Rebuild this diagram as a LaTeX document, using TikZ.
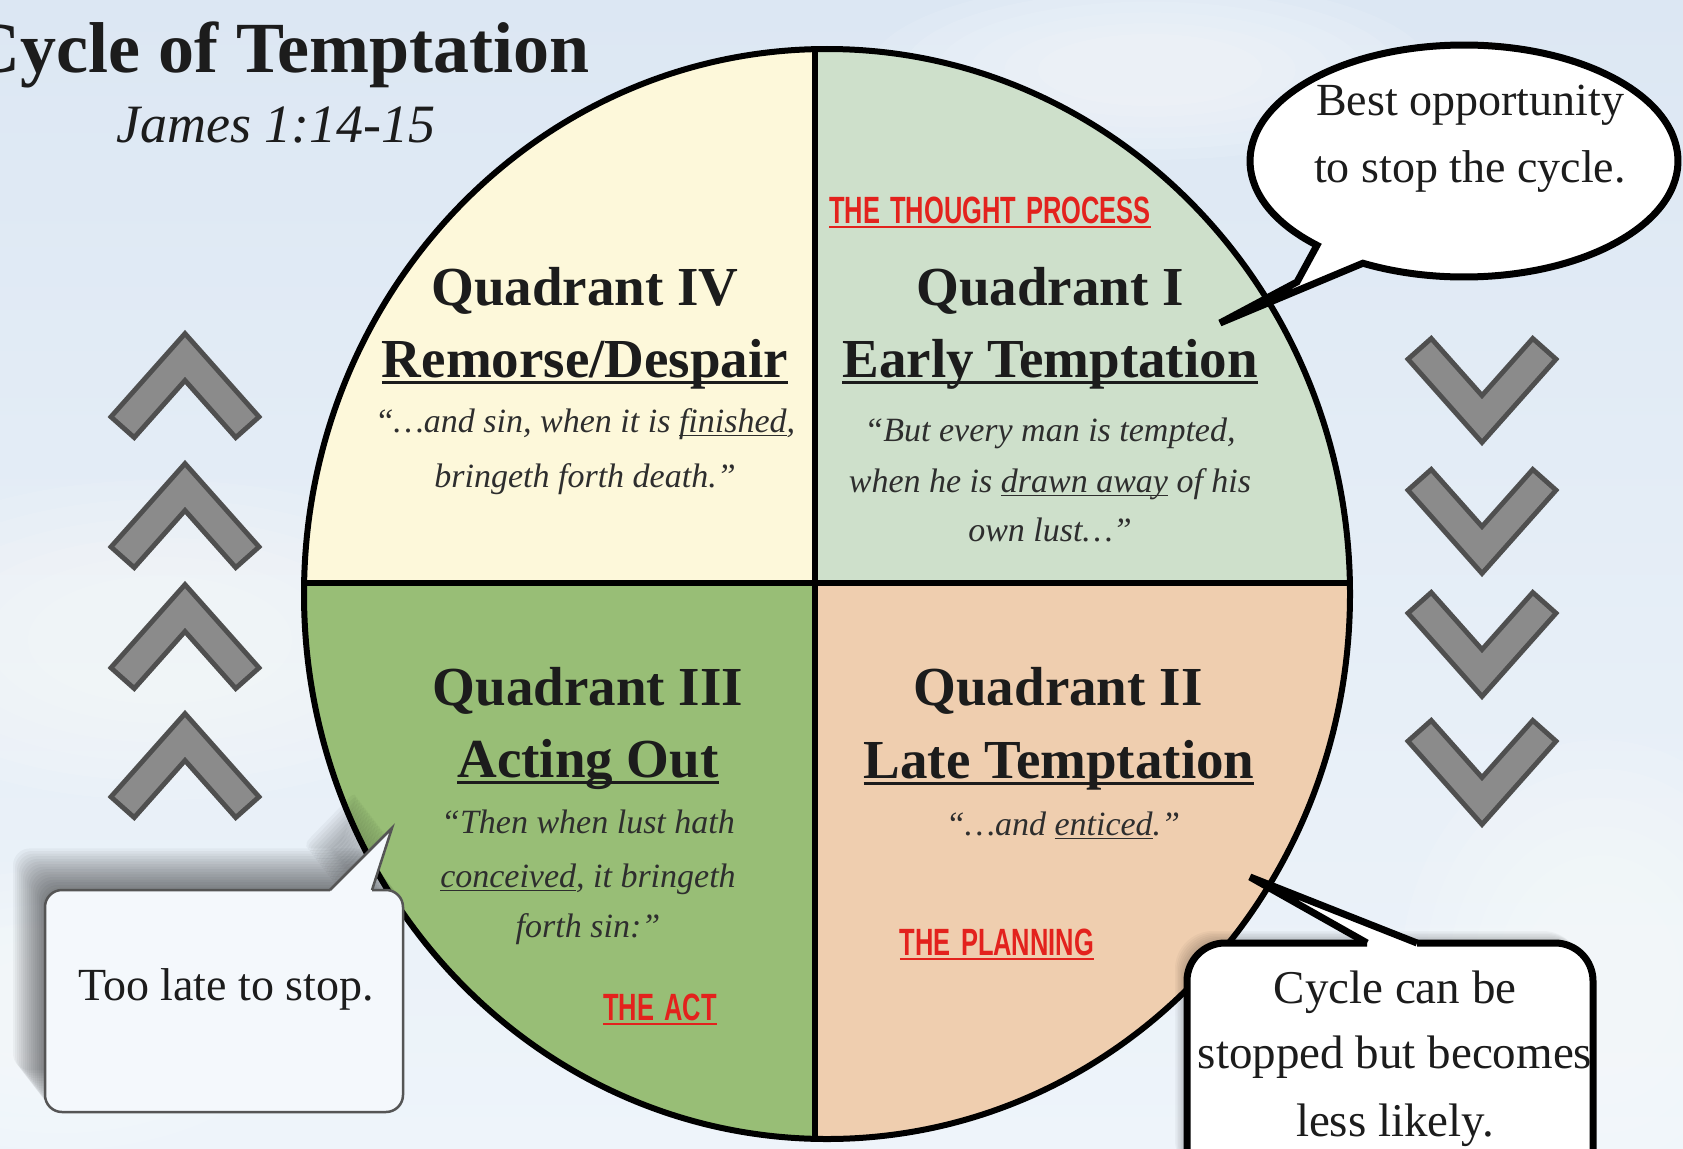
\documentclass[tikz,border=0pt]{standalone}
\usepackage{fontspec}
\usepackage{graphicx}
\setmainfont{Liberation Serif}
\newfontfamily\labfont{Liberation Sans}
\definecolor{qfourc}{HTML}{FDF8DA}
\definecolor{qonec}{HTML}{CEE0CB}
\definecolor{qthreec}{HTML}{98BE76}
\definecolor{qtwoc}{HTML}{EFCEAF}
\definecolor{txtc}{HTML}{1C1C1C}
\definecolor{qtxtc}{HTML}{2E2E2E}
\definecolor{redc}{HTML}{E3221D}
\definecolor{chevdark}{HTML}{4F4F4F}
\definecolor{chevfill}{HTML}{8B8B8B}
\definecolor{skytop}{HTML}{DCE7F3}
\definecolor{skybot}{HTML}{EEF4FA}
\definecolor{lbfill}{HTML}{F4F8FC}
\definecolor{lbline}{HTML}{555555}
\newsavebox\ulbox
\newcommand\myul[1]{\sbox\ulbox{#1}\rlap{\rule[-0.13em]{\wd\ulbox}{0.05em}}\usebox\ulbox}
\tikzset{
  chevout/.style={line width=36pt, draw=chevdark, line join=miter, line cap=butt},
  chevin/.style={line width=26pt, draw=chevfill, line join=miter, line cap=butt, shorten <=5pt, shorten >=5pt},
  upchev/.pic={
    \draw[chevout] (-64,72) -- (0,0) -- (64,72);
    \draw[chevin] (-64,72) -- (0,0) -- (64,72);
  },
  downchev/.pic={
    \draw[chevout] (-64,-72) -- (0,0) -- (64,-72);
    \draw[chevin] (-64,-72) -- (0,0) -- (64,-72);
  },
  softcloud/.pic={
    \foreach \s in {1.0,0.88,0.76,0.64,0.52,0.4} {
      \fill[white, opacity=0.1] (0,0) ellipse [x radius=\s, y radius=\s];
    }
  },
  qhead/.style={font=\fontsize{55}{60}\selectfont\bfseries, text=txtc, inner sep=0pt, anchor=base},
  qtext/.style={font=\fontsize{34}{40}\selectfont\itshape, text=qtxtc, inner sep=0pt, anchor=base},
  redlab/.style={font=\labfont\fontsize{38}{40}\selectfont\bfseries, text=redc, inner sep=0pt, anchor=base},
  btxt/.style={font=\fontsize{46}{50}\selectfont, text=txtc, inner sep=0pt, anchor=base},
  outline/.style={line width=6pt, draw=black},
  bubline/.style={line width=7pt, draw=black},
}
\begin{document}
\begin{tikzpicture}[x=1pt,y=-1pt]
\useasboundingbox (0,0) rectangle (1683,1148);
\clip (0,0) rectangle (1683,1148);
% background sky
\shade[top color=skytop,bottom color=skybot] (0,0) rectangle (1683,1148);
\pic[xscale=330, yscale=160] at (160,640) {softcloud};
\pic[xscale=240, yscale=140] at (60,1010) {softcloud};
\pic[xscale=280, yscale=90] at (1150,70) {softcloud};
\pic[xscale=200, yscale=240] at (1600,980) {softcloud};

% chevrons
\foreach \yy in {357,487,608,737} { \pic at (185,\yy) {upchev}; }
\foreach \yy in {419,550,673,801} { \pic at (1482,\yy) {downchev}; }

% circle with quadrants
\begin{scope}
  \clip (827,594) ellipse [x radius=523, y radius=545];
  \fill[qfourc] (0,0) rectangle (815,583);
  \fill[qonec] (815,0) rectangle (1683,583);
  \fill[qthreec] (0,583) rectangle (815,1200);
  \fill[qtwoc] (815,583) rectangle (1683,1200);
  \draw[outline] (815,0) -- (815,1200);
  \draw[outline] (0,583) -- (1683,583);
\end{scope}
\draw[outline] (827,594) ellipse [x radius=523, y radius=545];

% title
\node[font=\fontsize{72}{80}\selectfont\bfseries, text=txtc, inner sep=0pt, anchor=base east] (title) at (590,72) {Cycle of Temptation};
\node[font=\fontsize{54}{60}\selectfont\itshape, text=txtc, inner sep=0pt, anchor=base] (verse) at (276,142) {James 1:14-15};

% Quadrant IV
\node[qhead] (q4h) at (585,305) {Quadrant IV};
\node[qhead] (q4s) at (585,377) {\myul{Remorse/Despair}};
\node[qtext] (q4a) at (585,432) {“\ldots and sin, when it is \myul{finished},};
\node[qtext] (q4b) at (585,487) {bringeth forth death.”};

% Quadrant I
\node[redlab] (q1r) at (990,223) {\myul{\scalebox{0.67}[1]{THE\hspace{0.4em}THOUGHT\hspace{0.4em}PROCESS}}};
\node[qhead] (q1h) at (1050,305) {Quadrant I};
\node[qhead] (q1s) at (1050,377) {\myul{Early Temptation}};
\node[qtext] (q1a) at (1050,441) {“But every man is tempted,};
\node[qtext] (q1b) at (1050,492) {when he is \myul{drawn away} of his};
\node[qtext] (q1c) at (1050,541) {own lust\ldots”};

% Quadrant III
\node[qhead] (q3h) at (588,705) {Quadrant III};
\node[qhead] (q3s) at (588,777) {\myul{Acting Out}};
\node[qtext] (q3a) at (588,833) {“Then when lust hath};
\node[qtext] (q3b) at (588,887) {\myul{conceived}, it bringeth};
\node[qtext] (q3c) at (588,937) {forth sin:”};
\node[redlab] (q3r) at (660,1020) {\myul{\scalebox{0.67}[1]{THE\hspace{0.4em}ACT}}};

% Quadrant II
\node[qhead] (q2h) at (1058,705) {Quadrant II};
\node[qhead] (q2s) at (1059,778) {\myul{Late Temptation}};
\node[qtext] (q2a) at (1063,835) {“\ldots and \myul{enticed}.”};
\node[redlab] (q2r) at (997,955) {\myul{\scalebox{0.67}[1]{THE\hspace{0.4em}PLANNING}}};

% top-right bubble
\path[fill=white, bubline, line join=miter] (1464,161) ++(133.4:214 and 116)
  arc[start angle=133.4, end angle=478.2, x radius=214, y radius=116]
  -- (1220,323) -- (1297,282) -- cycle;
\node[btxt] (b1a) at (1470,115) {Best opportunity};
\node[btxt] (b1b) at (1470,182) {to stop the cycle.};

% bottom-left bubble with soft shadow
\foreach \k in {1,...,16} {
  \fill[black, opacity=0.035, rounded corners=17pt, shift={(-2*\k,-2.6*\k)}]
    (45,890) rectangle (403,1112) (330,892) -- (392,828) -- (372,892) -- cycle;
}
\fill[lbfill, rounded corners=17pt] (45,890) rectangle (403,1112);
\fill[lbfill] (330,891) -- (392,828) -- (372,891) -- cycle;
\draw[lbline, line width=2.5pt, rounded corners=17pt] (372,890) -- (403,890) -- (403,1112) -- (45,1112) -- (45,890) -- (330,890);
\draw[lbline, line width=2.5pt, line join=miter] (330,890) -- (392,828) -- (372,890);
\node[btxt] (b2) at (226,1000) {Too late to stop.};

% bottom-right bubble with soft shadow
\foreach \k in {1,...,8} {
  \fill[black, opacity=0.03, rounded corners=38pt, shift={(-1.5*\k,-1.5*\k)}]
    (1187,943) rectangle (1593,1190);
}
\fill[white, rounded corners=38pt] (1187,943) rectangle (1593,1190);
\fill[white] (1367,946) -- (1250,877) -- (1417,946) -- cycle;
\draw[bubline, rounded corners=38pt] (1417,943) -- (1593,943) -- (1593,1190) -- (1187,1190) -- (1187,943) -- (1367,943);
\draw[bubline, line join=miter] (1367,943) -- (1250,877) -- (1417,943);
\node[btxt, font=\fontsize{47}{50}\selectfont] (b3a) at (1395,1003) {Cycle can be};
\node[btxt, font=\fontsize{47}{50}\selectfont] (b3b) at (1395,1068) {stopped but becomes};
\node[btxt, font=\fontsize{47}{50}\selectfont] (b3c) at (1395,1136) {less likely.};
\end{tikzpicture}
\end{document}
